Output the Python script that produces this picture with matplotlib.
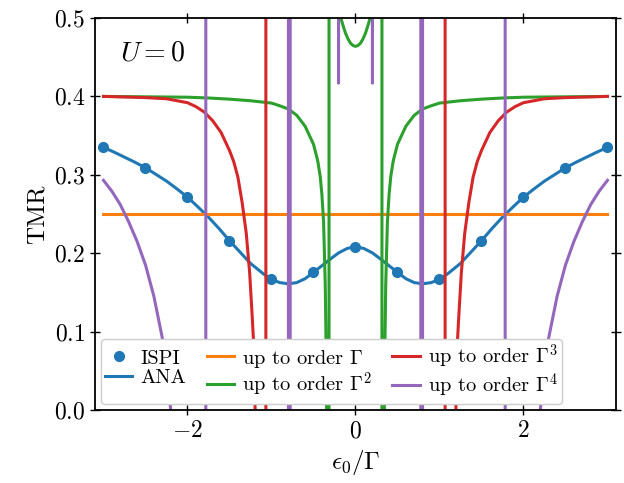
import matplotlib
matplotlib.use('Agg')
import matplotlib.pyplot as plt

plt.rcParams.update({
    'font.family': 'serif',
    'font.serif': ['cmr10'],
    'mathtext.fontset': 'cm',
    'axes.formatter.use_mathtext': True,
    'axes.unicode_minus': True,
})

# ---------------- data ----------------
x_ispi = [-3.0, -2.5, -2.0, -1.5, -1.0, -0.5, 0.0, 0.5, 1.0, 1.5, 2.0, 2.5, 3.0]
y_ispi = [0.335, 0.309, 0.2715, 0.216, 0.1668, 0.1757, 0.2085,
          0.1757, 0.1668, 0.216, 0.2715, 0.309, 0.335]

x_ana = [-3.0, -2.875, -2.75, -2.625, -2.5, -2.375, -2.25, -2.125, -2.0, -1.875,
         -1.75, -1.625, -1.5, -1.375, -1.25, -1.1, -1.0, -0.9, -0.8, -0.7,
         -0.6, -0.5, -0.4, -0.3, -0.2, -0.1, 0.0,
         0.1, 0.2, 0.3, 0.4, 0.5, 0.6, 0.7, 0.8, 0.9, 1.0, 1.1, 1.25, 1.375,
         1.5, 1.625, 1.75, 1.875, 2.0, 2.125, 2.25, 2.375, 2.5, 2.625, 2.75,
         2.875, 3.0]
y_ana = [0.335, 0.329, 0.3225, 0.316, 0.309, 0.3005, 0.292, 0.282, 0.2715, 0.259,
         0.246, 0.2315, 0.216, 0.2015, 0.187, 0.174, 0.1665, 0.1625, 0.161, 0.1625,
         0.1675, 0.1757, 0.184, 0.1925, 0.2005, 0.206, 0.2085,
         0.206, 0.2005, 0.1925, 0.184, 0.1757, 0.1675, 0.1625, 0.161, 0.1625, 0.1665,
         0.174, 0.187, 0.2015, 0.216, 0.2315, 0.246, 0.259, 0.2715, 0.282, 0.292,
         0.3005, 0.309, 0.316, 0.3225, 0.329, 0.335]

x_o1 = [-3.0, 3.0]
y_o1 = [0.25, 0.25]

x_o2 = [-3.0, -2.5, -2.0, -1.75, -1.5, -1.25, -1.0, -0.9, -0.8, -0.7, -0.6, -0.5,
        -0.45, -0.42, -0.4, -0.38, -0.36, -0.35, -0.34, -0.33, -0.32, -0.316,
        -0.314, -0.3, -0.28, -0.25, -0.22, -0.2, -0.174, -0.15, -0.12, -0.09,
        -0.06, -0.03, 0.0,
        0.03, 0.06, 0.09, 0.12, 0.15, 0.174, 0.2, 0.22, 0.25, 0.28, 0.3, 0.314,
        0.316, 0.32, 0.33, 0.34, 0.35, 0.36, 0.38, 0.4, 0.42, 0.45, 0.5, 0.6,
        0.7, 0.8, 0.9, 1.0, 1.25, 1.5, 1.75, 2.0, 2.5, 3.0]
y_o2 = [0.400, 0.3995, 0.399, 0.398, 0.3965, 0.3945, 0.3915, 0.388, 0.384, 0.376,
        0.362, 0.339, 0.318, 0.298, 0.275, 0.24, 0.16, 0.08, -0.05, -0.4, -2.0,
        -30.0, 30.0, 3.0, 1.2, 0.8, 0.62, 0.56, 0.5, 0.491, 0.481, 0.4735, 0.468,
        0.465, 0.4638,
        0.465, 0.468, 0.4735, 0.481, 0.491, 0.5, 0.56, 0.62, 0.8, 1.2, 3.0, 30.0,
        -30.0, -2.0, -0.4, -0.05, 0.08, 0.16, 0.24, 0.275, 0.298, 0.318, 0.339,
        0.362, 0.376, 0.384, 0.388, 0.3915, 0.3945, 0.3965, 0.398, 0.399, 0.3995,
        0.400]

x_o3 = [-3.0, -2.5, -2.25, -2.0, -1.9, -1.8, -1.7, -1.6, -1.5, -1.45, -1.4, -1.35,
        -1.3, -1.26, -1.23, -1.21, -1.195, -1.18, -1.15, -1.12, -1.09, -1.068,
        -1.066, -1.0, -0.5, 0.0, 0.5, 1.0, 1.066,
        1.068, 1.09, 1.12, 1.15, 1.18, 1.195, 1.21, 1.23, 1.26, 1.3, 1.35, 1.4,
        1.45, 1.5, 1.6, 1.7, 1.8, 1.9, 2.0, 2.25, 2.5, 3.0]
y_o3 = [0.400, 0.3985, 0.397, 0.392, 0.387, 0.380, 0.369, 0.354, 0.331, 0.317,
        0.297, 0.265, 0.225, 0.175, 0.12, 0.08, 0.0, -0.12, -0.5, -1.5, -4.0,
        -30.0, 30.0, 5.0, 1.5, 1.2, 1.5, 5.0, 30.0,
        -30.0, -4.0, -1.5, -0.5, -0.12, 0.0, 0.08, 0.12, 0.175, 0.225, 0.265,
        0.297, 0.317, 0.331, 0.354, 0.369, 0.380, 0.387, 0.392, 0.397, 0.3985,
        0.400]

x_o4 = [-3.0, -2.9, -2.8, -2.75, -2.7, -2.6, -2.5, -2.4, -2.3, -2.25, -2.2, -2.1,
        -2.0, -1.9, -1.8, -1.783, -1.781, -1.7, -1.2, -0.799, -0.798, -0.778,
        -0.777, -0.5, -0.203, -0.202, -0.201, 0.0,
        0.201, 0.202, 0.203, 0.5, 0.777, 0.778, 0.798, 0.799, 1.2, 1.7, 1.781,
        1.783, 1.8, 1.9, 2.0, 2.1, 2.2, 2.25, 2.3, 2.4, 2.5, 2.6, 2.7, 2.75, 2.8,
        2.9, 3.0]
y_o4 = [0.293, 0.279, 0.262, 0.251, 0.240, 0.215, 0.185, 0.145, 0.092, 0.055, 0.0,
        -0.15, -0.4, -1.0, -5.0, -30.0, 30.0, 5.0, 2.0, 30.0, -30.0, -30.0, 30.0,
        2.0, 30.0, 0.417, 30.0, 3.0,
        30.0, 0.417, 30.0, 2.0, 30.0, -30.0, -30.0, 30.0, 2.0, 5.0, 30.0, -30.0,
        -5.0, -1.0, -0.4, -0.15, 0.0, 0.055, 0.092, 0.145, 0.185, 0.215, 0.240,
        0.251, 0.262, 0.279, 0.293]

xticks = [-2, 0, 2]
yticks = [0.0, 0.1, 0.2, 0.3, 0.4, 0.5]

# ---------------- figure ----------------
fig = plt.figure(figsize=(6.24, 4.83), dpi=100)
ax = fig.add_axes([0.1524, 0.1511, 0.8346, 0.8116])

lw = 2.2
ax.plot(x_ispi, y_ispi, 'o', color='C0', ms=7, label='ISPI')
ax.plot(x_ana, y_ana, '-', color='C0', lw=lw, label='ANA')
ax.plot(x_o1, y_o1, color='C1', lw=lw, label=r'up to order $\Gamma$')
ax.plot(x_o2, y_o2, color='C2', lw=lw, label=r'up to order $\Gamma^2$')
ax.plot(x_o3, y_o3, color='C3', lw=lw, label=r'up to order $\Gamma^3$')
ax.plot(x_o4, y_o4, color='C4', lw=lw, label=r'up to order $\Gamma^4$')

ax.set_xlim(-3.1, 3.1)
ax.set_ylim(0, 0.5)
ax.set_xticks(xticks)
ax.set_yticks(yticks)
ax.tick_params(direction='inout', top=True, right=True, length=7.5, width=1.0,
               labelsize=17)
for sp in ax.spines.values():
    sp.set_linewidth(1.3)

ax.set_xlabel(r'$\epsilon_0/\Gamma$', fontsize=18, labelpad=4)
ax.set_ylabel('TMR', fontsize=18)
ax.text(0.048, 0.892, r'$U=0$', transform=ax.transAxes, fontsize=20)

ax.legend(ncol=3, loc='lower left', fontsize=14.7, handlelength=1.33,
          handletextpad=0.4, columnspacing=1.0, framealpha=1.0,
          borderpad=0.2, labelspacing=0.05, borderaxespad=0.3)

fig.savefig('out.png', dpi=100)
